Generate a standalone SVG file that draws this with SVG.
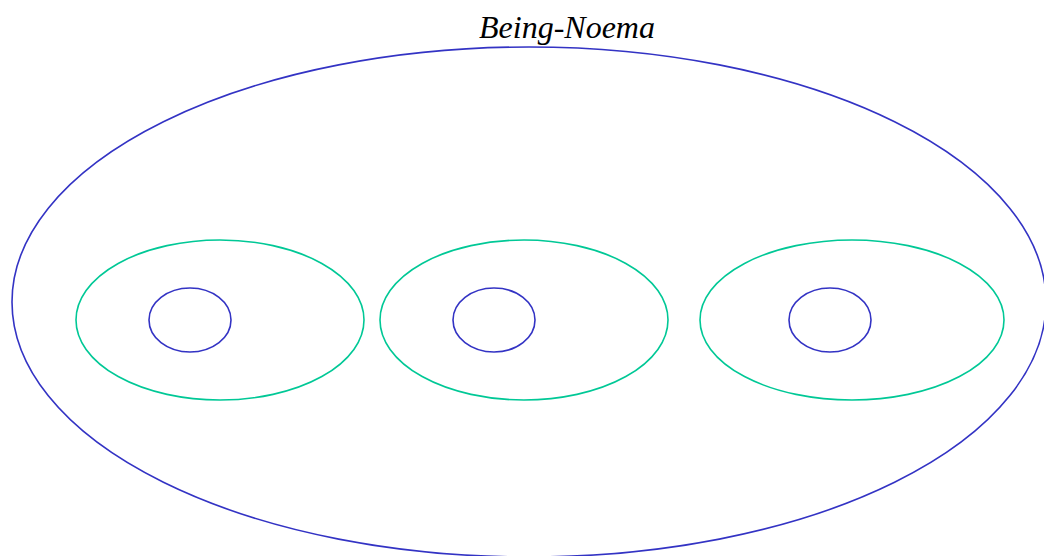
<svg xmlns="http://www.w3.org/2000/svg" width="1044" height="556" viewBox="0 0 1044 556">
<style>
.b{fill:none;stroke:#3333c4;stroke-width:1.6}
.g{fill:none;stroke:#00c896;stroke-width:1.6}
.t{font-family:"Liberation Serif",serif;font-style:italic;font-size:32px;fill:#000}
</style>
<rect width="1044" height="556" fill="#fff"/>
<g id="being-noema">
<ellipse class="b" cx="529" cy="302" rx="517" ry="255"/>
<text class="t" x="567" y="38" text-anchor="middle">Being-Noema</text>
</g>
<g id="group1">
<ellipse class="g" cx="220" cy="320" rx="144" ry="80"/>
<ellipse class="b" cx="190" cy="320" rx="41" ry="32"/>
</g>
<g id="group2">
<ellipse class="g" cx="524" cy="320" rx="144" ry="80"/>
<ellipse class="b" cx="494" cy="320" rx="41" ry="32"/>
</g>
<g id="group3">
<ellipse class="g" cx="852" cy="320" rx="152" ry="80"/>
<ellipse class="b" cx="830" cy="320" rx="41" ry="32"/>
</g>
<g id="connectors"></g>
</svg>
